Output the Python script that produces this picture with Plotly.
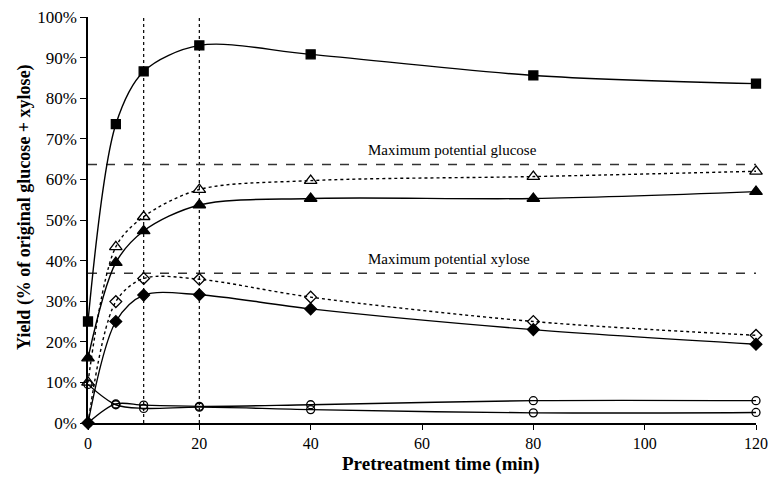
import plotly.graph_objects as go

time_min = [0, 5, 10, 20, 40, 80, 120]
tick_vals_x = [0, 20, 40, 60, 80, 100, 120]
tick_vals_y = [0, 10, 20, 30, 40, 50, 60, 70, 80, 90, 100]
tick_text_y = [f"{v}%" for v in tick_vals_y]

squares_filled = [25.0, 73.6, 86.6, 93.0, 90.8, 85.6, 83.6]
triangles_open = [10.0, 43.4, 50.8, 57.5, 59.7, 60.7, 62.0]
triangles_filled = [16.0, 39.5, 47.3, 53.7, 55.3, 55.3, 57.0]
diamonds_open = [0.0, 29.9, 35.6, 35.4, 31.0, 25.0, 21.6]
diamonds_filled = [0.0, 25.0, 31.5, 31.6, 28.1, 23.0, 19.4]
circles_a = [9.5, 4.5, 3.6, 3.9, 3.3, 2.5, 2.6]
circles_b = [0.0, 4.7, 4.4, 4.1, 4.5, 5.5, 5.5]

max_glucose = 63.7
max_xylose = 36.9
marker_lines_x = [10, 20]

FONT = "Liberation Serif"

series = [
    (squares_filled, "square", "black", "solid", 9),
    (triangles_open, "triangle-up-open", "black", "dot", 11),
    (triangles_filled, "triangle-up", "black", "solid", 11),
    (diamonds_open, "diamond-open", "black", "dot", 9),
    (diamonds_filled, "diamond", "black", "solid", 9),
    (circles_a, "circle-open", "black", "solid", 8),
    (circles_b, "circle-open", "black", "solid", 8),
]

fig = go.Figure()

# reference lines
for xv in marker_lines_x:
    fig.add_trace(go.Scatter(x=[xv, xv], y=[0, 100], mode="lines",
                             line=dict(color="black", width=1.2, dash="dot"),
                             hoverinfo="skip", showlegend=False))
for yv in [max_glucose, max_xylose]:
    fig.add_trace(go.Scatter(x=[0, 120], y=[yv, yv], mode="lines",
                             line=dict(color="#333333", width=1.5, dash="dash"),
                             hoverinfo="skip", showlegend=False))

for ys, sym, col, dash, size in series:
    fig.add_trace(go.Scatter(
        x=time_min, y=ys, mode="lines+markers",
        line=dict(color=col, width=1.4, dash=dash, shape="spline", smoothing=0.9),
        marker=dict(symbol=sym, size=size, color=col,
                    line=dict(color=col, width=1.3)),
        cliponaxis=False, showlegend=False))

fig.add_annotation(x=50, y=max_glucose, text="Maximum potential glucose",
                   xanchor="left", yanchor="bottom", yshift=4, showarrow=False,
                   font=dict(family=FONT, size=15, color="black"))
fig.add_annotation(x=50, y=max_xylose, text="Maximum potential xylose",
                   xanchor="left", yanchor="bottom", yshift=4, showarrow=False,
                   font=dict(family=FONT, size=15, color="black"))

# axis titles as annotations for precise placement
fig.add_annotation(xref="paper", yref="paper", x=0.528, y=-0.1325,
                   text="<b>Pretreatment time (min)</b>", showarrow=False,
                   xanchor="center", yanchor="bottom",
                   font=dict(family=FONT, size=19, color="black"))
fig.add_annotation(xref="paper", yref="paper", x=-0.095, y=0.531,
                   text="<b>Yield (% of original glucose + xylose)</b>", showarrow=False,
                   textangle=-90, xanchor="center", yanchor="middle",
                   font=dict(family=FONT, size=18, color="black"))

fig.update_layout(
    width=769, height=477,
    margin=dict(l=88, r=13, t=17, b=54),
    paper_bgcolor="white", plot_bgcolor="white",
    font=dict(family=FONT, size=16, color="black"),
    xaxis=dict(range=[0, 120], tickvals=tick_vals_x, showgrid=False, zeroline=False,
               automargin=False,
               showline=True, linecolor="black", linewidth=1.5,
               ticks="outside", ticklen=5, tickwidth=1.3, tickcolor="black",
               tickfont=dict(family=FONT, size=16)),
    yaxis=dict(range=[0, 100], tickvals=tick_vals_y, ticktext=tick_text_y,
               showgrid=False, zeroline=False, automargin=False,
               showline=True, linecolor="black", linewidth=1.5,
               ticks="outside", ticklen=6, tickwidth=1.3, tickcolor="black",
               tickfont=dict(family=FONT, size=17)),
)

fig.write_html("out.html")
